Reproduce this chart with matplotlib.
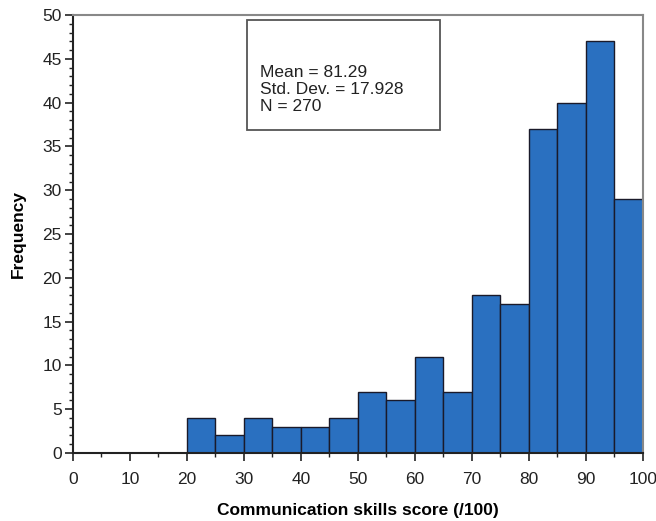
import matplotlib.pyplot as plt
import numpy as np
from matplotlib.ticker import MultipleLocator
from matplotlib.patches import Rectangle

plt.rcParams['font.family'] = ['Liberation Sans', 'DejaVu Sans']

bin_edges = [20, 25, 30, 35, 40, 45, 50, 55, 60, 65, 70, 75, 80, 85, 90, 95, 100]
counts = [4, 2, 4, 3, 3, 4, 7, 6, 11, 7, 18, 17, 37, 40, 47, 29]
stats_text = "Mean = 81.29\nStd. Dev. = 17.928\nN = 270"

fig = plt.figure(figsize=(6.56, 5.21), dpi=100)
ax = fig.add_axes([0.111, 0.1305, 0.869, 0.8405])

edges = np.array(bin_edges)
ax.bar(edges[:-1], counts, width=np.diff(edges), align='edge',
       color='#2a70c0', edgecolor='#1a1a2a', linewidth=1.0, zorder=2)

ax.set_xlim(0, 100)
ax.set_ylim(0, 50)
ax.xaxis.set_major_locator(MultipleLocator(10))
ax.xaxis.set_minor_locator(MultipleLocator(5))
ax.yaxis.set_major_locator(MultipleLocator(5))
ax.yaxis.set_minor_locator(MultipleLocator(1))
ax.tick_params(which='major', length=6, width=1.2, labelsize=12.5, colors='#222222', pad=2)
ax.tick_params(axis='x', which='major', pad=8)
ax.tick_params(which='minor', length=3, width=1.0, colors='#222222')

for s in ['left', 'bottom']:
    ax.spines[s].set_color('#222222')
    ax.spines[s].set_linewidth(1.5)
for s in ['top', 'right']:
    ax.spines[s].set_color('#888888')
    ax.spines[s].set_linewidth(1.5)

ax.set_xlabel("Communication skills score (/100)", fontsize=12.5, fontweight='bold', labelpad=11)
ax.set_ylabel("Frequency", fontsize=12.5, fontweight='bold', labelpad=12)

ax.text(0.329, 0.83, stats_text, transform=ax.transAxes, fontsize=12.5,
        va='center', ha='left', linespacing=1.2, color='#222222')
ax.add_patch(Rectangle((0.3064, 0.737), 0.338, 0.252, transform=ax.transAxes,
                       fill=False, edgecolor='#555555', linewidth=1.3, zorder=3))

fig.savefig("out.png", dpi=100)
